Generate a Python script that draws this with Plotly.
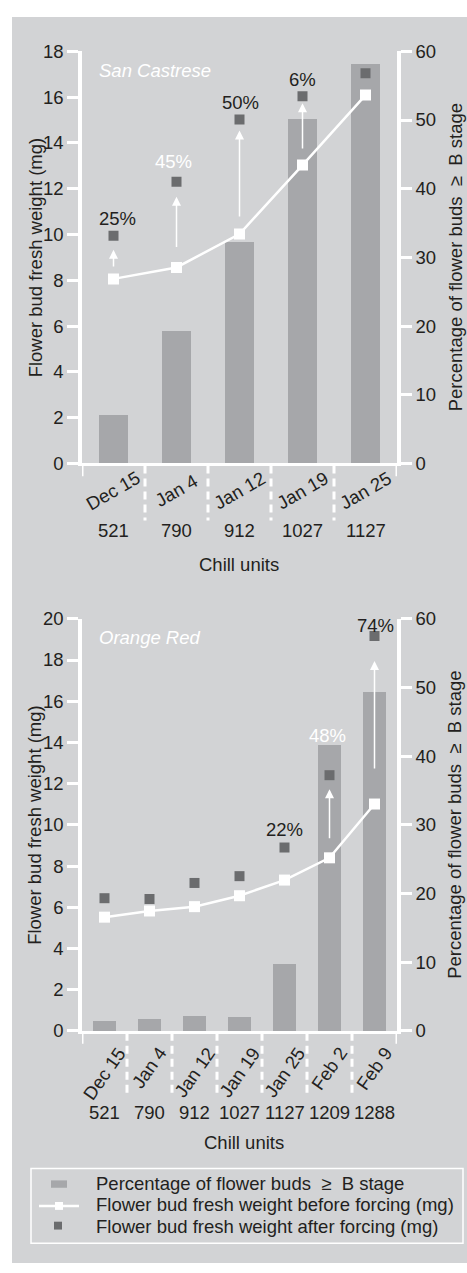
import plotly.graph_objects as go

# ---------------- data ----------------
# San Castrese
sc_dates = ["Dec 15", "Jan 4", "Jan 12", "Jan 19", "Jan 25"]
sc_chill = [521, 790, 912, 1027, 1127]
sc_pct_b_stage = [7.0, 19.2, 32.2, 50.1, 58.1]
sc_weight_before = [8.06, 8.56, 10.02, 13.03, 16.09]
sc_weight_after = [9.94, 12.30, 15.02, 16.04, 17.04]
sc_gain = ["25%", "45%", "50%", "6%", ""]

# Orange Red
or_dates = ["Dec 15", "Jan 4", "Jan 12", "Jan 19", "Jan 25", "Feb 2", "Feb 9"]
or_chill = [521, 790, 912, 1027, 1127, 1209, 1288]
or_pct_b_stage = [1.5, 1.7, 2.2, 2.1, 9.8, 41.6, 49.4]
or_weight_before = [5.52, 5.82, 6.03, 6.56, 7.32, 8.40, 11.01]
or_weight_after = [6.44, 6.40, 7.18, 7.51, 8.90, 12.41, 19.16]
or_gain = ["", "", "", "", "22%", "48%", "74%"]

# ---------------- style ----------------
W, H = 467, 1273
BG = "#d2d3d5"
BAR = "#a6a7aa"
DARK = "#6b6c6e"
TXT = "#231f20"
FONT = "Liberation Sans, Arial, Helvetica, sans-serif"
FS = 18.5


def fx(px):
    return px / W


def fy(py):
    return 1 - py / H


X_DOM = [fx(82), fx(397)]
panels = [
    dict(name="San Castrese", dates=sc_dates, chill=sc_chill, pct=sc_pct_b_stage,
         before=sc_weight_before, after=sc_weight_after, gain=sc_gain,
         gain_color=[TXT, "white", TXT, TXT, TXT],
         gain_shift=[(4, 17), (-3, 20), (1, 17), (0, 17), (0, 17)],
         arrows={0: (11, 14), 1: (19, 15), 2: (16, 11), 3: (15, 7)},
         top=41, bottom=460, wmax=18, width=0.45, label_angle=-30,
         label_y=488, label_anchor="middle", chill_y=528, title_y=563,
         title_x=239, sep_end=518, title_py=61),
    dict(name="Orange Red", dates=or_dates, chill=or_chill, pct=or_pct_b_stage,
         before=or_weight_before, after=or_weight_after, gain=or_gain,
         gain_color=[TXT, TXT, TXT, TXT, TXT, "white", TXT],
         gain_shift=[(0, 18)] * 4 + [(0, 18), (-2, 40), (1, 11)],
         arrows={5: (18, 14), 6: (34, 25)},
         top=618, bottom=1037, wmax=20, width=0.5, label_angle=-55,
         label_y=1047, label_anchor="top", chill_y=1120, title_y=1150,
         title_x=244, sep_end=1100, title_py=637),
]

fig = go.Figure()
shapes = [dict(type="rect", xref="paper", yref="paper", x0=fx(12), x1=1,
               y0=0, y1=fy(6), fillcolor=BG, line=dict(width=0), layer="below")]
annotations = []

axis_common = dict(showgrid=False, zeroline=False, showline=True, linecolor="white",
                   ticks="outside", ticklen=11, tickwidth=3, tickcolor="white",
                   tickfont=dict(family=FONT, size=FS, color=TXT))

for k, p in enumerate(panels):
    xa = "x" if k == 0 else "x2"
    ya_pct = "y" if k == 0 else "y3"
    ya_w = "y2" if k == 0 else "y4"
    n = len(p["dates"])
    ydom = [fy(p["bottom"]), fy(p["top"])]

    fig.add_trace(go.Bar(x=p["dates"], y=p["pct"], width=p["width"], marker_color=BAR,
                         marker_line_width=0, xaxis=xa, yaxis=ya_pct, showlegend=False))
    fig.add_trace(go.Scatter(x=p["dates"], y=p["before"], mode="lines+markers",
                             line=dict(color="white", width=2.5),
                             marker=dict(symbol="square", size=11, color="white"),
                             xaxis=xa, yaxis=ya_w, showlegend=False))
    fig.add_trace(go.Scatter(x=p["dates"], y=p["after"], mode="markers",
                             marker=dict(symbol="square", size=10, color=DARK),
                             xaxis=xa, yaxis=ya_w, showlegend=False))

    lay_x = dict(domain=X_DOM, anchor=ya_pct, range=[-0.5, n - 0.5], type="category",
                 showgrid=False, zeroline=False, showline=True, linecolor="white",
                 linewidth=3, ticks="", showticklabels=False)
    lay_pct = dict(axis_common, domain=ydom, anchor=xa, side="right", range=[0, 60],
                   tickvals=list(range(0, 61, 10)), linewidth=3.5)
    lay_w = dict(axis_common, anchor=xa, side="left", overlaying=ya_pct,
                 range=[0, p["wmax"]], dtick=2, linewidth=3.5)
    if k == 0:
        fig.update_layout(xaxis=lay_x, yaxis=lay_pct, yaxis2=lay_w)
    else:
        fig.update_layout(xaxis2=lay_x, yaxis3=lay_pct, yaxis4=lay_w)

    # separators between dates
    for i in range(n + 1):
        end = p["sep_end"] if 0 < i < n else p["bottom"] + 13
        shapes.append(dict(type="line", xref=xa, yref="paper", x0=i - 0.5, x1=i - 0.5,
                           y0=fy(p["bottom"] + 2), y1=fy(end),
                           line=dict(color="white", width=3,
                                     dash="8px,5px" if 0 < i < n else "solid")))

    # date and chill-unit labels
    for i, (d, c) in enumerate(zip(p["dates"], p["chill"])):
        annotations.append(dict(x=i, y=fy(p["label_y"]), xref=xa, yref="paper", text=d,
                                textangle=p["label_angle"], showarrow=False,
                                xanchor="center", yanchor=p["label_anchor"],
                                font=dict(family=FONT, size=FS, color=TXT)))
        annotations.append(dict(x=i, y=fy(p["chill_y"]), xref=xa, yref="paper", text=str(c),
                                showarrow=False, xanchor="center", yanchor="middle",
                                font=dict(family=FONT, size=FS, color=TXT)))
    annotations.append(dict(x=fx(p["title_x"]), y=fy(p["title_y"]), xref="paper", yref="paper",
                            text="Chill units", showarrow=False, xanchor="center",
                            yanchor="middle", font=dict(family=FONT, size=FS, color=TXT)))

    # cultivar name
    annotations.append(dict(x=fx(97), y=fy(p["title_py"]), xref="paper", yref="paper",
                            text="<i>%s</i>" % p["name"], showarrow=False, xanchor="left",
                            yanchor="middle", font=dict(family=FONT, size=FS, color="white")))

    # axis titles
    mid = (p["top"] + p["bottom"]) / 2
    annotations.append(dict(x=fx(35), y=fy(mid), xref="paper", yref="paper",
                            text="Flower bud fresh weight (mg)", textangle=-90,
                            showarrow=False, xanchor="center", yanchor="middle",
                            font=dict(family=FONT, size=FS, color=TXT)))
    annotations.append(dict(x=fx(455), y=fy(mid), xref="paper", yref="paper",
                            text="Percentage of flower buds\u00a0 \u2265\u00a0 B stage",
                            textangle=-90, showarrow=False, xanchor="center",
                            yanchor="middle", font=dict(family=FONT, size=FS, color=TXT)))

    # weight gain labels
    for i, g in enumerate(p["gain"]):
        if not g:
            continue
        dx, dy = p["gain_shift"][i]
        annotations.append(dict(x=i, y=p["after"][i], xref=xa, yref=ya_w, text=g,
                                showarrow=False, xshift=dx, yshift=dy,
                                xanchor="center", yanchor="middle",
                                font=dict(family=FONT, size=FS, color=p["gain_color"][i])))

    # forcing arrows from before to after weight
    for i, (s0, s1) in p["arrows"].items():
        annotations.append(dict(x=i, y=p["after"][i], ax=i, ay=p["before"][i],
                                xref=xa, yref=ya_w, axref=xa, ayref=ya_w, text="",
                                showarrow=True, arrowhead=2, arrowsize=1.2,
                                arrowwidth=1.5, arrowcolor="white",
                                standoff=s1, startstandoff=s0))

# ---------------- legend ----------------
shapes.append(dict(type="rect", xref="paper", yref="paper", x0=fx(31), x1=fx(463),
                   y0=fy(1253), y1=fy(1177), line=dict(color="white", width=1.5)))
shapes.append(dict(type="rect", xref="paper", yref="paper", x0=fx(51), x1=fx(67),
                   y0=fy(1196.5), y1=fy(1189), fillcolor=BAR, line=dict(width=0)))
shapes.append(dict(type="line", xref="paper", yref="paper", x0=fx(39), x1=fx(79),
                   y0=fy(1215), y1=fy(1215), line=dict(color="white", width=2.5)))
shapes.append(dict(type="rect", xref="paper", yref="paper", x0=fx(55), x1=fx(63),
                   y0=fy(1219), y1=fy(1211), fillcolor="white", line=dict(width=0)))
shapes.append(dict(type="rect", xref="paper", yref="paper", x0=fx(54), x1=fx(62),
                   y0=fy(1239), y1=fy(1231), fillcolor=DARK, line=dict(width=0)))
legend_items = ["Percentage of flower buds\u00a0 \u2265\u00a0 B stage",
                "Flower bud fresh weight before forcing (mg)",
                "Flower bud fresh weight after forcing (mg)"]
for t, yy in zip(legend_items, [1192, 1214, 1236]):
    annotations.append(dict(x=fx(94), y=fy(yy), xref="paper", yref="paper", text=t,
                            showarrow=False, xanchor="left", yanchor="middle",
                            font=dict(family=FONT, size=FS, color=TXT)))

fig.update_layout(width=W, height=H, margin=dict(l=0, r=0, t=0, b=0),
                  paper_bgcolor="white", plot_bgcolor="rgba(0,0,0,0)",
                  shapes=shapes, annotations=annotations, showlegend=False,
                  bargap=0, font=dict(family=FONT, size=FS, color=TXT))

fig.write_html("out.html")
